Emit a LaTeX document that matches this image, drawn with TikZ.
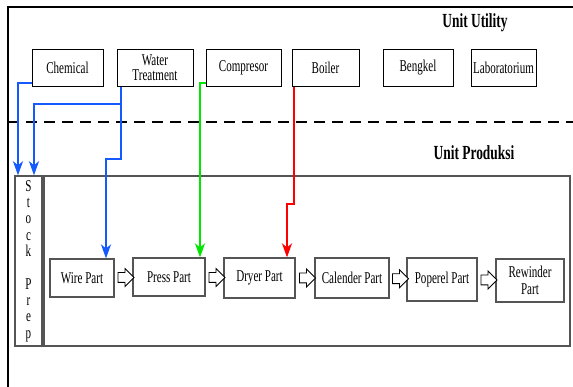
\documentclass[tikz,border=0pt]{standalone}
\usepackage{fontspec}
\setmainfont[FakeStretch=0.67]{Liberation Serif}
\usetikzlibrary{arrows.meta,shapes.arrows}
\definecolor{flowblue}{RGB}{20,90,255}
\definecolor{flowgreen}{RGB}{0,230,0}
\definecolor{flowred}{RGB}{255,0,0}
\definecolor{boxgray}{RGB}{85,85,85}
\tikzset{
  unitbox/.style={draw, line width=0.9, inner sep=0, align=center,
    font=\fontsize{16.5}{15}\selectfont, minimum height=37},
  partbox/.style={draw=boxgray, line width=1.2, inner sep=0, align=center,
    font=\fontsize{16.5}{17}\selectfont},
  areabox/.style={draw=boxgray, line width=1.5, inner sep=0},
  hollow/.style={single arrow, draw, line width=0.8, fill=white, inner sep=4.5,
    minimum height=16, single arrow head extend=4},
  flow/.style={line width=1.7, -{Stealth[length=14,width=10,inset=4]}},
  unitlabel/.style={font=\fontsize{20}{20}\selectfont\bfseries}
}
\begin{document}
\begin{tikzpicture}[x=1pt,y=-1pt]
			\useasboundingbox (0,0) rectangle (573,387);
			\fill[white] (0,0) rectangle (573,387);
			% frame and separator
			\draw[line width=2] (8,387) -- (8,7) -- (573,7);
			\draw[line width=2.6, dash pattern=on 11 off 7] (8,122) -- (573,122);
			\node[unitlabel] (utility) at (475,23) {Unit Utility};
			\node[unitlabel] (produksi) at (474,153) {Unit Produksi};
			% utility units
			\foreach \n/\x/\w/\t in {chemical/67.5/71/Chemical, water/155/76/{Water\\Treatment},
				compresor/243.5/75/Compresor, boiler/325.5/67/Boiler,
				bengkel/418/70/Bengkel, lab/503.5/65/Laboratorium}{
				\node[unitbox, minimum width=\w] (\n) at (\x,68) {\t};
			}
			% production area
			\node[areabox, minimum width=27, minimum height=170, align=center,
				font=\fontsize{16.5}{16.3}\selectfont] (stock) at (28.5,261)
				{S\\t\\o\\c\\k\\[16.3pt]P\\r\\e\\p};
			\node[areabox, minimum width=526, minimum height=170] (prod) at (307,261) {};
			\foreach \n/\x/\y/\w/\h/\t in {wire/82/278/64/38/Wire Part, press/169/277/72/38/Press Part,
				dryer/259.5/278/71/40/Dryer Part, calender/352/278/74/40/Calender Part,
				poperel/442/279.5/70/43/Poperel Part, rewinder/530/280.5/68/43/{Rewinder\\Part}}{
				\node[partbox, minimum width=\w, minimum height=\h] (\n) at (\x,\y) {\t};
			}
			\foreach \a/\b in {wire/press, press/dryer, dryer/calender, calender/poperel, poperel/rewinder}{
				\path (\a.east) -- (\b.west) node[midway, hollow] (arr-\a) {};
			}
			% supply lines
			\draw[flow, flowblue] ([yshift=4]chemical.south west) -| ([xshift=-10.5]stock.north);
			\draw[flow, flowblue] ([xshift=-34]water.south) -- ++(0,72) -| ([xshift=24]wire.north);
			\draw[flow, flowblue] ([xshift=-34,yshift=-17]water.south) -| ([xshift=5.5]stock.north);
			\draw[flow, flowgreen] ([yshift=4]compresor.south west) -| ([xshift=31]press.north);
			\draw[flow, flowred] ([xshift=-31.5]boiler.south) -- ++(0,117) -| ([xshift=27.5]dryer.north);
		\end{tikzpicture}
\end{document}
